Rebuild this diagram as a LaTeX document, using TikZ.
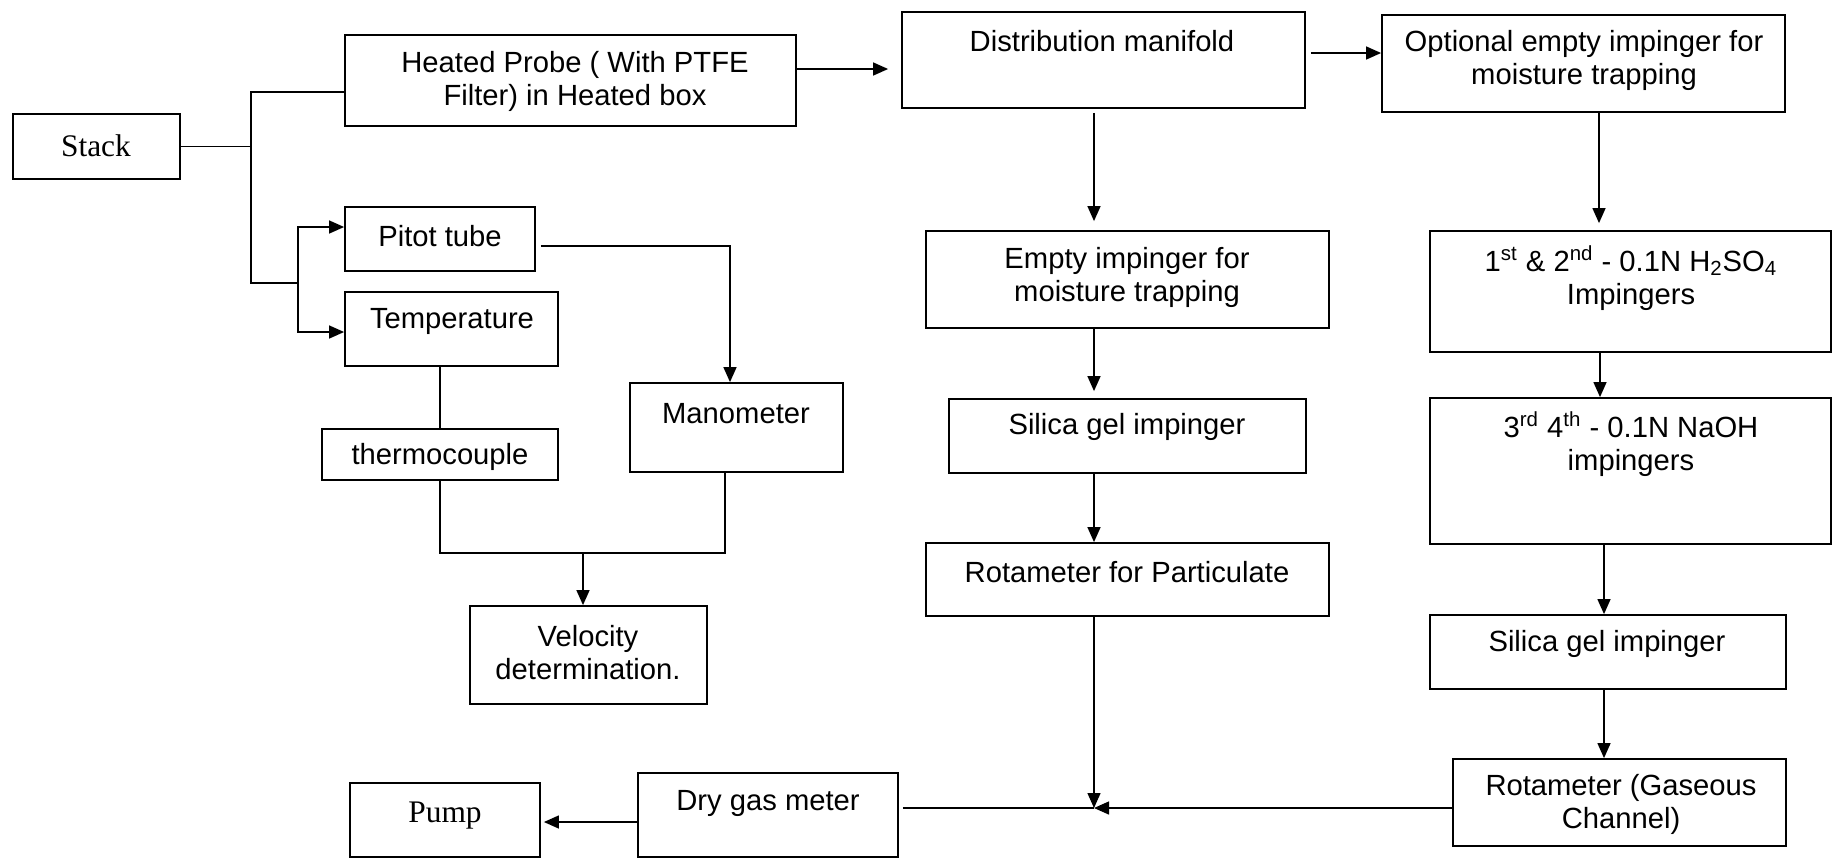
\documentclass[tikz,border=0pt]{standalone}
\usepackage{fontspec}
\setmainfont{Liberation Sans}
\newfontfamily\timesf{Liberation Serif}
\usetikzlibrary{arrows.meta,fit}
\begin{document}
\begin{tikzpicture}[x=0.5pt,y=-0.5pt,
  box/.style={draw, line width=0.9pt, inner sep=0pt, fit={#1}},
  lbl/.style={align=center, inner sep=0pt, font=\fontsize{14.6}{16.5}\selectfont},
  tlbl/.style={align=center, inner sep=0pt, font=\timesf\fontsize{15.7}{18}\selectfont},
  ln/.style={line width=0.7pt},
  arr/.style={line width=0.7pt, -{Triangle[length=7.5pt,width=6.5pt]}}]
\useasboundingbox (0,0) rectangle (1832,858);
% boxes
\node[box={(13,114)(180,179)}] (stack) {};
\node[tlbl] (stack-t) at (96,146) {Stack};
\node[box={(345,35)(796,126)}] (hp) {};
\node[lbl] (hp-t) at (575,81) {Heated Probe ( With PTFE\\Filter) in Heated box};
\node[box={(345,207)(535,271)}] (pitot) {};
\node[lbl] (pitot-t) at (440,236) {Pitot tube};
\node[box={(345,292)(558,366)}] (temp) {};
\node[lbl] (temp-t) at (452,321) {Temperature};
\node[box={(322,429)(558,480)}] (thermo) {};
\node[lbl] (thermo-t) at (440,457) {thermocouple};
\node[box={(630,383)(843,472)}] (mano) {};
\node[lbl] (mano-t) at (736,414) {Manometer};
\node[box={(470,606)(707,704)}] (vel) {};
\node[lbl] (vel-t) at (588,653) {Velocity\\determination.};
\node[box={(350,783)(540,857)}] (pump) {};
\node[tlbl] (pump-t) at (445,816) {Pump};
\node[box={(638,773)(898,857)}] (dgm) {};
\node[lbl] (dgm-t) at (768,803) {Dry gas meter};
\node[box={(902,12)(1305,108)}] (dm) {};
\node[lbl] (dm-t) at (1102,41) {Distribution manifold};
\node[box={(1382,15)(1785,112)}] (opt) {};
\node[lbl] (opt-t) at (1584,60) {Optional empty impinger for\\moisture trapping};
\node[box={(926,231)(1329,328)}] (emp) {};
\node[lbl] (emp-t) at (1127,277) {Empty impinger for\\moisture trapping};
\node[box={(1430,231)(1831,352)}] (hs) {};
\node[lbl] (hs-t) at (1631,278) {1\textsuperscript{st} \& 2\textsuperscript{nd} - 0.1N H\textsubscript{2}SO\textsubscript{4}\\Impingers};
\node[box={(949,399)(1306,473)}] (si1) {};
\node[lbl] (si1-t) at (1127,427) {Silica gel impinger};
\node[box={(926,543)(1329,616)}] (rotp) {};
\node[lbl] (rotp-t) at (1127,572) {Rotameter for Particulate};
\node[box={(1430,398)(1831,544)}] (naoh) {};
\node[lbl] (naoh-t) at (1631,444) {3\textsuperscript{rd} 4\textsuperscript{th} - 0.1N NaOH\\impingers};
\node[box={(1430,615)(1786,689)}] (si2) {};
\node[lbl] (si2-t) at (1607,644) {Silica gel impinger};
\node[box={(1453,759)(1786,846)}] (rotg) {};
\node[lbl] (rotg-t) at (1621,804) {Rotameter (Gaseous\\Channel)};
% junctions
\coordinate (j1) at (251,148);
\coordinate (j2) at (251,283);
\coordinate (j3) at (298,283);
\coordinate (j4) at (725,553);
\coordinate (j5) at (583,553);
\coordinate (jm) at (1094,808);
% connectors
\draw[ln] (stack.east) -- (stack.east -| j1);
\draw[ln] (hp.west |- 0,92) -| (j2) -- (j3);
\draw[arr] (j3) |- (pitot.west |- 0,227);
\draw[arr] (j3) |- (temp.west |- 0,332);
\draw[arr, shorten <=2.5pt] (pitot.east |- 0,246) -| (mano.north -| 730,0);
\draw[ln] (temp.south -| 440,0) -- (thermo.north -| 440,0);
\draw[ln] (thermo.south -| 440,0) |- (j4) -- (mano.south -| j4);
\draw[arr] (j5) -- (vel.north -| j5);
\draw[arr, shorten >=6.5pt] (hp.east |- 0,69) -- (dm.west |- 0,69);
\draw[arr, shorten <=2.5pt] (dm.east |- 0,53) -- (opt.west |- 0,53);
\draw[arr, shorten <=2pt, shorten >=4.5pt] (dm.south -| 1094,0) -- (emp.north -| 1094,0);
\draw[arr, shorten >=3.5pt] (opt.south -| 1599,0) -- (hs.north -| 1599,0);
\draw[arr, shorten >=3.5pt] (emp.south -| 1094,0) -- (si1.north -| 1094,0);
\draw[arr] (hs.south -| 1600,0) -- (naoh.north -| 1600,0);
\draw[arr] (si1.south -| 1094,0) -- (rotp.north -| 1094,0);
\draw[arr] (naoh.south -| 1604,0) -- (si2.north -| 1604,0);
\draw[arr] (si2.south -| 1604,0) -- (rotg.north -| 1604,0);
\draw[arr] (rotp.south -| jm) -- (jm);
\draw[arr] (rotg.west |- jm) -- (jm);
\draw[ln, shorten <=2pt] (dgm.east |- jm) -- (jm);
\draw[arr, shorten >=1.5pt] (dgm.west |- 0,822) -- (pump.east |- 0,822);
\end{tikzpicture}
\end{document}
